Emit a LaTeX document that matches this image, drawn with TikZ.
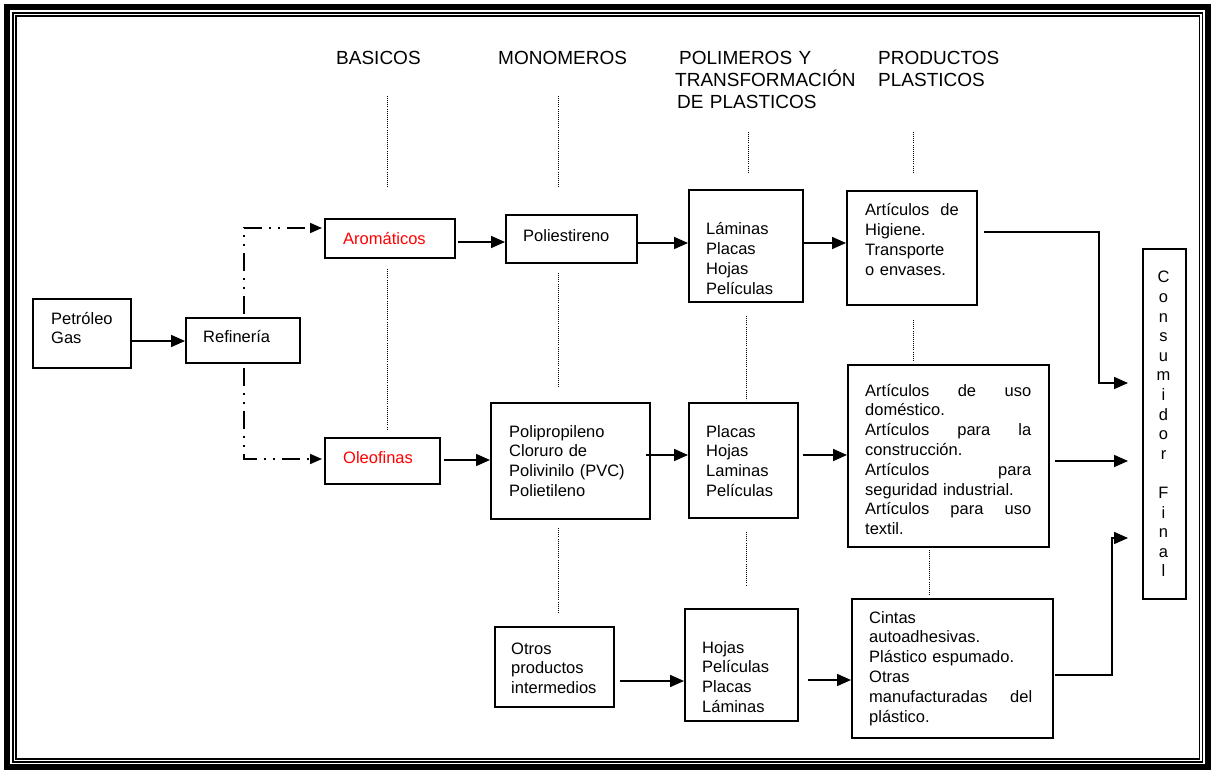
\documentclass[tikz,border=0pt]{standalone}
\usepackage{fontspec}
\setmainfont{Liberation Sans}
\usetikzlibrary{arrows.meta,calc}

\tikzset{
  box/.style={draw, rectangle, line width=1.6pt, inner sep=0pt, anchor=north west},
  txt/.style={inner sep=0pt, anchor=base west, align=left, text width=#1,
              font=\fontsize{16.5}{19.8}\selectfont},
  txt/.default=170pt,
  head/.style={inner sep=0pt, anchor=base west, align=left, text width=200pt,
               font=\fontsize{19}{22}\selectfont},
  flow/.style={line width=1.7pt, -{Triangle[length=14pt,width=12pt]}},
  dashdot/.style={line width=1.7pt, dash pattern=on 18pt off 7pt on 2pt off 7pt on 2pt off 7pt,
                  -{Triangle[length=12pt,width=10pt]}},
  guide/.style={line width=1pt, dash pattern=on 1pt off 1.1pt},
}

\begin{document}
\begin{tikzpicture}[x=1pt,y=-1pt]
  \useasboundingbox (0,0) rectangle (1213,770);

  % page frame: thick outer rule and two thin inner rules
  \draw[line width=6pt] (7,7) rectangle (1208,767);
  \draw[line width=1.2pt] (13,13) rectangle (1202.5,762);
  \draw[line width=1.2pt] (16,16) rectangle (1199.5,759);

  % column headings
  \node[head] (hBas) at (336,65) {BASICOS};
  \node[head] (hMon) at (498,65) {MONOMEROS};
  \node[head] (hPol) at (675,65) {\hspace*{4pt}POLIMEROS Y\\TRANSFORMACIÓN\\\hspace*{2pt}DE PLASTICOS};
  \node[head] (hPro) at (878,65) {PRODUCTOS\\PLASTICOS};

  % boxes
  \node[box, minimum width=98pt,  minimum height=69pt]  (pet) at (32,298) {};
  \node[box, minimum width=114pt, minimum height=45pt]  (ref) at (185,317) {};
  \node[box, minimum width=130pt, minimum height=39pt]  (aro) at (324,218) {};
  \node[box, minimum width=115pt, minimum height=46pt]  (ole) at (324,437) {};
  \node[box, minimum width=131pt, minimum height=48pt]  (pst) at (505,214) {};
  \node[box, minimum width=159pt, minimum height=116pt] (ppl) at (490,402) {};
  \node[box, minimum width=119pt, minimum height=80pt]  (otr) at (494,626) {};
  \node[box, minimum width=114pt, minimum height=112pt] (lam) at (688,189) {};
  \node[box, minimum width=109pt, minimum height=115pt] (pla) at (688,402) {};
  \node[box, minimum width=113pt, minimum height=112pt] (hoj) at (684,608) {};
  \node[box, minimum width=130pt, minimum height=114pt] (hig) at (846,190) {};
  \node[box, minimum width=201pt, minimum height=182pt] (uso) at (847,364) {};
  \node[box, minimum width=201pt, minimum height=139pt] (cin) at (851,598) {};
  \node[box, minimum width=43pt,  minimum height=350pt] (con) at (1142,248) {};

  % box texts
  \node[txt] (petT) at (51,324) {Petróleo\\Gas};
  \node[txt] (refT) at (203,342) {Refinería};
  \node[txt, text=red] (aroT) at (343,244) {Aromáticos};
  \node[txt, text=red] (oleT) at (343,463) {Oleofinas};
  \node[txt] (pstT) at (523,242) {Poliestireno};
  \node[txt] (pplT) at (509,437) {Polipropileno\\Cloruro de\\Polivinilo (PVC)\\Polietileno};
  \node[txt] (otrT) at (511,654) {Otros\\productos\\intermedios};
  \node[txt] (lamT) at (706,235) {Láminas\\Placas\\Hojas\\Películas};
  \node[txt] (plaT) at (706,437) {Placas\\Hojas\\Laminas\\Películas};
  \node[txt] (hojT) at (702,653) {Hojas\\Películas\\Placas\\Láminas};
  \node[txt] (higT) at (865,216) {Artículos\ \ de\\Higiene.\\Transporte\\o envases.};
  \node[txt=166pt] (usoT) at (865,396) {Artículos\hfill de\hfill uso\\doméstico.\\Artículos\hfill para\hfill la\\construcción.\\Artículos\hfill para\\seguridad industrial.\\Artículos\hfill para\hfill uso\\textil.};
  \node[txt=163pt] (cinT) at (869,623) {Cintas\\autoadhesivas.\\Plástico espumado.\\Otras\\manufacturadas\hfill del\\plástico.};
  \node[inner sep=0pt, anchor=base, align=center, text width=20pt,
        font=\fontsize{16.5}{19.6}\selectfont]
    (conT) at (1163.5,283) {C\\o\\n\\s\\u\\m\\i\\d\\o\\r\\\mbox{}\\F\\i\\n\\a\\l};

  % dotted guides under the headings and between rows
  \draw[guide] (387,96) -- (387,188);
  \draw[guide] (387,269) -- (387,430);
  \draw[guide] (558,96) -- (558,188);
  \draw[guide] (558,273) -- (558,387);
  \draw[guide] (558,528) -- (558,613);
  \draw[guide] (748,132) -- (748,172);
  \draw[guide] (746,316) -- (746,400);
  \draw[guide] (746,532) -- (746,586);
  \draw[guide] (913,132) -- (913,172);
  \draw[guide] (913,320) -- (913,362);
  \draw[guide] (929,550) -- (929,596);

  % refinery branches
  \coordinate (bUp) at (244,228);
  \coordinate (bDn) at (244,459);
  \draw[dashdot] ($(ref.north -| bUp)+(0,-3)$) -- (bUp) -- ($(bUp -| aro.west)+(-2,0)$);
  \draw[dashdot] ($(ref.south -| bDn)+(0,4)$) -- (bDn) -- ($(bDn -| ole.west)+(-2,0)$);

  % main flow
  \draw[flow] ($(pet.east |- 0,341)+(-2,0)$) -- (ref.west |- 0,341);
  \draw[flow] (458,242) -- (pst.west |- 0,242);
  \draw[flow] (444,460) -- (ppl.west |- 0,460);
  \draw[flow] (638,243) -- (lam.west |- 0,243);
  \draw[flow] (804,243) -- (hig.west |- 0,243);
  \draw[flow] (646,455) -- (pla.west |- 0,455);
  \draw[flow] (803,455) -- (uso.west |- 0,455);
  \draw[flow] (620,681) -- (hoj.west |- 0,681);
  \draw[flow] (808,680) -- (cin.west |- 0,680);

  % into the final consumer
  \coordinate (eHig) at (1099,232);
  \coordinate (eCin) at (1112,675);
  \draw[flow] (984,232) -- (eHig) |- ($(con.west |- 0,383)+(-14,0)$);
  \draw[flow] (1055,461) -- ($(con.west |- 0,461)+(-14,0)$);
  \draw[flow] (1055,675) -- (eCin) |- ($(con.west |- 0,538)+(-14,0)$);
\end{tikzpicture}
\end{document}
